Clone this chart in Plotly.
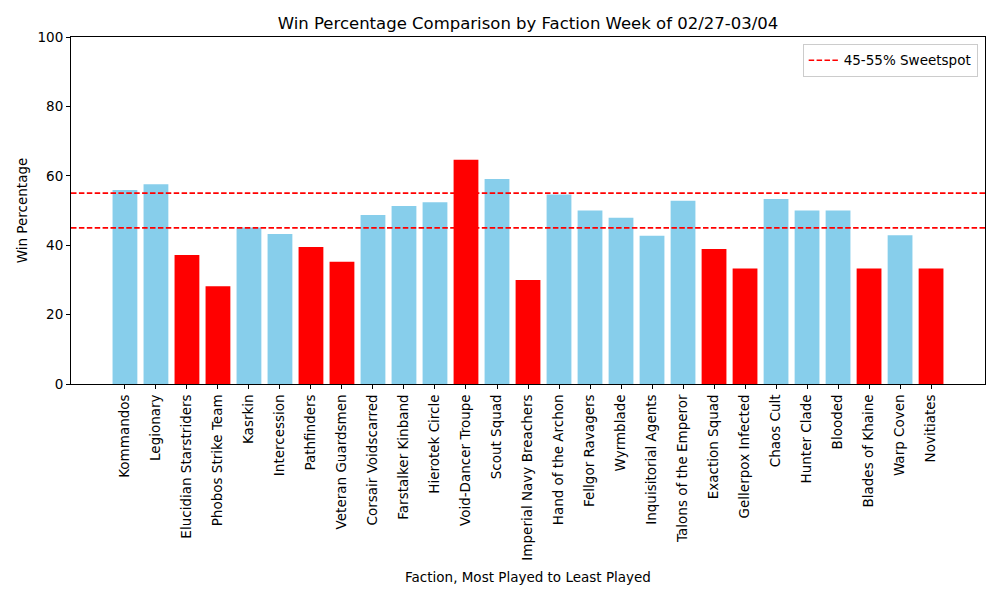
import plotly.graph_objects as go

factions = ["Kommandos", "Legionary", "Elucidian Starstriders", "Phobos Strike Team", "Kasrkin",
            "Intercession", "Pathfinders", "Veteran Guardsmen", "Corsair Voidscarred", "Farstalker Kinband",
            "Hierotek Circle", "Void-Dancer Troupe", "Scout Squad", "Imperial Navy Breachers",
            "Hand of the Archon", "Fellgor Ravagers", "Wyrmblade", "Inquisitorial Agents",
            "Talons of the Emperor", "Exaction Squad", "Gellerpox Infected", "Chaos Cult",
            "Hunter Clade", "Blooded", "Blades of Khaine", "Warp Coven", "Novitiates"]
win_pct = [55.9, 57.6, 37.2, 28.2, 45.1, 43.2, 39.5, 35.2, 48.7, 51.3, 52.4, 64.6, 59.1, 30.0,
           54.6, 50.0, 47.9, 42.7, 52.8, 38.9, 33.3, 53.3, 50.0, 50.0, 33.3, 42.9, 33.3]
sweet_low, sweet_high = 45, 55
y_ticks = [0, 20, 40, 60, 80, 100]

colors = ["red" if (v < 40 or v > 60) else "skyblue" for v in win_pct]
x_idx = list(range(len(factions)))

fig = go.Figure()
fig.add_trace(go.Bar(x=x_idx, y=win_pct, width=0.8, marker=dict(color=colors, line=dict(width=0)),
                     showlegend=False))
fig.add_trace(go.Scatter(x=[None], y=[None], mode="lines", name="45-55% Sweetspot",
                         line=dict(color="red", width=1.6, dash="5.5px,2.4px")))
for v in (sweet_low, sweet_high):
    fig.add_shape(type="line", xref="paper", x0=0, x1=1, yref="y", y0=v, y1=v,
                  line=dict(color="red", width=1.6, dash="5.5px,2.4px"), layer="above")

n = len(factions)
span = (n - 1 + 0.4) - (-0.4)
fig.update_layout(
    width=1000, height=600,
    margin=dict(l=71, r=15, t=37, b=216, autoexpand=False),
    paper_bgcolor="white", plot_bgcolor="white",
    font=dict(family="DejaVu Sans", size=13.5, color="black"),
    title=dict(text="Win Percentage Comparison by Faction Week of 02/27-03/04", x=0.528, xanchor="center",
               y=0.962, yanchor="middle", font=dict(size=16.5)),
    bargap=0.2,
    legend=dict(x=0.992, y=0.98, xanchor="right", yanchor="top", bordercolor="#cccccc", borderwidth=1,
                bgcolor="rgba(255,255,255,0.8)", font=dict(size=13.5), tracegroupgap=0,
                itemwidth=30),
    xaxis=dict(tickmode="array", tickvals=x_idx, ticktext=factions, tickangle=-90, automargin=False,
               range=[-0.4 - 0.05 * span, n - 1 + 0.4 + 0.05 * span], tickfont=dict(size=13.5),
               showline=True, linecolor="black", linewidth=1, mirror=True, ticks="outside",
               ticklen=4, tickcolor="black", showgrid=False, zeroline=False,
               title=dict(text="Faction, Most Played to Least Played", standoff=12, font=dict(size=13.5))),
    yaxis=dict(range=[0, 100], tickvals=y_ticks, showline=True, linecolor="black", linewidth=1,
               mirror=True, ticks="outside", ticklen=4, tickcolor="black", showgrid=False, automargin=False,
               zeroline=False, tickfont=dict(size=13.5),
               title=dict(text="Win Percentage", standoff=6, font=dict(size=13.5))),
)
fig.write_html("out.html", config={"displayModeBar": False},
               post_script="document.body.style.margin='0';")
